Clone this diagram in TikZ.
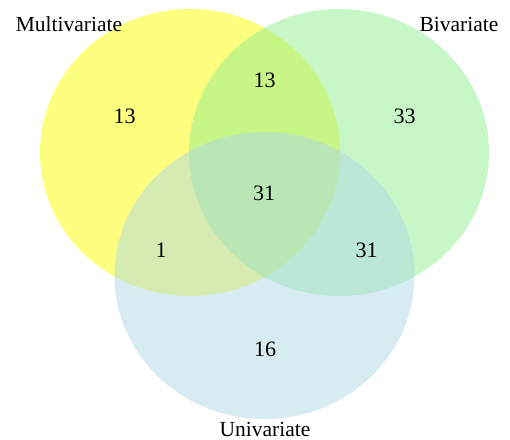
\documentclass[tikz,border=0pt]{standalone}
\usepackage{fontspec}
\setmainfont{Liberation Serif}
\usepackage{tikz}
\usepackage{xcolor}
\definecolor{venn_yellow}{RGB}{255,255,0}
\definecolor{venn_green}{RGB}{144,238,144}
\definecolor{venn_blue}{RGB}{173,216,230}

\begin{document}
\begin{tikzpicture}[x=1pt,y=-1pt,
    setfill/.style={fill=#1,fill opacity=0.5},
    count/.style={font=\fontsize{22}{26}\selectfont,inner sep=0pt},
    setname/.style={font=\fontsize{21.5}{25}\selectfont,inner sep=0pt}]
            \useasboundingbox (0,0) rectangle (510,439);
            %集合の円
            \fill[setfill=venn_yellow] (190,152.5) ellipse [x radius=150,y radius=143.5];
            \fill[setfill=venn_green] (339,152.5) ellipse [x radius=150,y radius=143.5];
            \fill[setfill=venn_blue] (264.5,275.5) ellipse [x radius=150,y radius=143.5];
            %集合の名前
            \node[setname] (multi) at (69,24) {Multivariate};
            \node[setname] (bi) at (459,24) {Bivariate};
            \node[setname] (uni) at (265,429) {Univariate};
            %各領域の数
            \node[count] (m) at (124.5,116.5) {13};
            \node[count] (mb) at (264.5,80) {13};
            \node[count] (b) at (404.5,116.5) {33};
            \node[count] (mbu) at (264,193) {31};
            \node[count] (mu) at (161,250.5) {1};
            \node[count] (bu) at (366.5,250.5) {31};
            \node[count] (u) at (265,349) {16};
        \end{tikzpicture}
\end{document}
